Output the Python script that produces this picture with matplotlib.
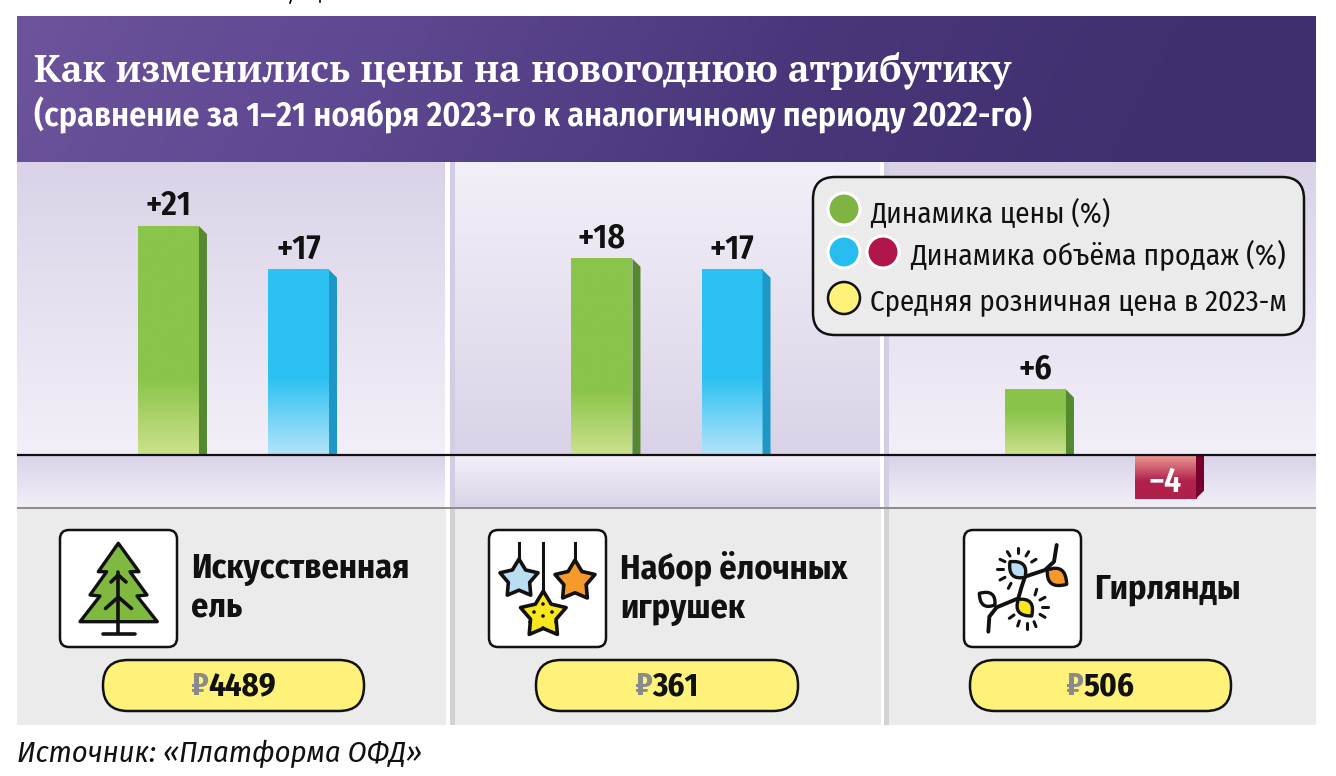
from matplotlib import pyplot as plt
from matplotlib.colors import LinearSegmentedColormap, to_rgb
from matplotlib.patches import Circle, FancyBboxPatch, PathPatch, Polygon
from matplotlib.path import Path
import numpy as np

# данные
categories = [['Искусственная', 'ель'], ['Набор ёлочных', 'игрушек'], ['Гирлянды']]
price_change = [21, 18, 6]
volume_change = [17, 17, -4]
retail_price = [4489, 361, 506]

title = 'Как изменились цены на новогоднюю атрибутику'
subtitle = '(сравнение за 1–21 ноября 2023-го к аналогичному периоду 2022-го)'
legend_labels = ['Динамика цены (%)', 'Динамика объёма продаж (%)', 'Средняя розничная цена в 2023-м']
source = 'Источник: «Платформа ОФД»'

SERIF = ['PT Serif', 'Liberation Serif', 'DejaVu Serif']
NARROW = ['Fira Sans Condensed', 'Noto Sans', 'DejaVu Sans']

fig = plt.figure(figsize=(13.36, 7.76), dpi=100)

# фон в пикселях
bg = fig.add_axes([0, 0, 1, 1])
bg.set_xlim(0, 1336)
bg.set_ylim(776, 0)
bg.axis('off')


def vgrad(x0, x1, y0, y1, c_top, c_bot):
    g = np.linspace(0, 1, 64)[:, None, None]
    img = (1 - g) * np.array(to_rgb(c_top)) + g * np.array(to_rgb(c_bot))
    bg.imshow(img, extent=(x0, x1, y1, y0), aspect='auto', interpolation='bilinear', zorder=1)


dark = '#DAD3E8'
light = '#F3EFF8'
# шапка
gx = np.linspace(0, 1, 256)[None, :]
gy = np.linspace(0, 1, 32)[:, None]
gt = np.clip(gx * 1.08 + gy * 0.06 - 0.02, 0, 1) ** 0.9
head = LinearSegmentedColormap.from_list('head', ['#6C539B', '#5E4891', '#4A377B', '#3F2F6E'])
bg.imshow(head(gt)[:, :, :3], extent=(17, 1316, 162, 16), aspect='auto', zorder=1)

vgrad(17, 445, 162, 455, dark, light)
vgrad(455, 880, 162, 455, light, dark)
vgrad(888, 1316, 162, 455, dark, light)
vgrad(17, 445, 456, 508, dark, light)
vgrad(455, 880, 456, 508, light, dark)
vgrad(888, 1316, 456, 508, dark, light)
for x0 in (450, 884):
    bg.fill_between([x0, x0 + 5], 162, 508, color='#D3CDE3', lw=0, zorder=2)
bg.fill_between([17, 1316], 507, 509, color='#8E8E8E', lw=0, zorder=2)
for x0, x1 in ((17, 446), (455, 881), (888, 1316)):
    bg.fill_between([x0, x1], 509, 725, color='#EBEBEB', lw=0, zorder=2)
for x0 in (450, 884):
    bg.fill_between([x0, x0 + 5], 509, 725, color='#D2D2D2', lw=0, zorder=2)
bg.set_xlim(0, 1336)
bg.set_ylim(776, 0)

# обрезанный край верхнего текста
bg.plot([291, 290], [0, 3], color='black', lw=1.2)
bg.plot([320, 320], [0, 2], color='black', lw=1.2)

bg.text(34, 82, title, family=SERIF, weight='bold', fontsize=27.5, color='white', zorder=5)
bg.text(34, 126, subtitle, family=NARROW, weight=600, fontsize=24.4, color='white', zorder=5)
bg.text(17, 762, source, family=NARROW, style='italic', fontsize=21.9, color='#111111', zorder=5)

# столбцы
ax = fig.add_axes([17 / 1336, 1 - 508 / 776, 1299 / 1336, (508 - 162) / 776])
ax.patch.set_alpha(0)
GROUP_PX = 433.5
UNIT_PX = 10.9
ax.set_xlim((17 - 233.5) / GROUP_PX, (1316 - 233.5) / GROUP_PX)
ax.set_ylim(-(508 - 455) / UNIT_PX, (455 - 162) / UNIT_PX)
ax.axis('off')
xlim = ax.get_xlim()
ylim = ax.get_ylim()

OFFSET = 0.15
WIDTH = 61 / GROUP_PX
DX = 8 / GROUP_PX
DY = 8 / UNIT_PX


def gradient_bar(x, val, c_far, c_near, c_side, span):
    left = x - WIDTH / 2
    right = x + WIDTH / 2
    # t = 0 у нулевой линии, 1 на конце столбца
    t = np.linspace(0, 1, 128)
    fade = np.clip(t * abs(val) / span, 0, 1)[:, None, None]
    img = (1 - fade) * np.array(to_rgb(c_near)) + fade * np.array(to_rgb(c_far))
    if val > 0:
        ax.imshow(img, extent=(left, right, 0, val), origin='lower', aspect='auto', zorder=3)
        side = [(right, 0), (right, val), (right + DX, val - DY), (right + DX, 0)]
    else:
        ax.imshow(img, extent=(left, right, val, 0), origin='upper', aspect='auto', zorder=3)
        side = [(right, 0), (right, val), (right + DX, val + DY), (right + DX, 0)]
    ax.add_patch(Polygon(side, closed=True, fc=c_side, ec='none', zorder=3))


for i in range(len(categories)):
    gradient_bar(i - OFFSET, price_change[i], '#8AC44B', '#CDE18C', '#55892F', max(4.0, 0.33 * price_change[i]))
    ax.annotate(f'+{price_change[i]}', (i - OFFSET, price_change[i]), xytext=(0, 8),
                textcoords='offset points', ha='center', va='baseline', family=NARROW,
                weight=600, fontsize=24.5, color='#111111', zorder=6)
    if volume_change[i] > 0:
        gradient_bar(i + OFFSET, volume_change[i], '#2BC1F2', '#B4E4F9', '#1F97C6', 0.42 * volume_change[i])
        ax.annotate(f'+{volume_change[i]}', (i + OFFSET, volume_change[i]), xytext=(0, 8),
                    textcoords='offset points', ha='center', va='baseline', family=NARROW,
                    weight=600, fontsize=24.5, color='#111111', zorder=6)
    else:
        gradient_bar(i + OFFSET, volume_change[i], '#B0204A', '#EC9A94', '#76002C', 2.4)
        ax.annotate(f'−{abs(volume_change[i])}', (i + OFFSET, volume_change[i]), xytext=(0, 5),
                    textcoords='offset points', ha='center', va='baseline', family=NARROW,
                    weight=600, fontsize=24.5, color='white', zorder=6)
ax.axhline(0, color='#111111', lw=1.6, zorder=4)
ax.set_xlim(xlim)
ax.set_ylim(ylim)

# всё, что лежит поверх столбцов
fg = fig.add_axes([0, 0, 1, 1])
fg.patch.set_alpha(0)
fg.set_xlim(0, 1336)
fg.set_ylim(776, 0)
fg.axis('off')


def rbox(x0, y0, x1, y1, r, fc, ec='#111111', lw=1.8, z=6):
    fg.add_patch(FancyBboxPatch((x0 + r, y0 + r), x1 - x0 - 2 * r, y1 - y0 - 2 * r,
                                boxstyle=f'round,pad={r},rounding_size={r}',
                                fc=fc, ec=ec, lw=lw, zorder=z))


# легенда
rbox(813, 177, 1304, 335, 22, '#EBEBEB')
fg.add_patch(Circle((844, 209), 16, fc='#7FB442', ec='white', lw=2.2, zorder=7))
fg.add_patch(Circle((844, 252), 16, fc='#27BEEF', ec='white', lw=2.2, zorder=7))
fg.add_patch(Circle((883, 252), 16, fc='#B0164C', ec='white', lw=2.2, zorder=7))
fg.add_patch(Circle((844, 298), 16, fc='#FFF27A', ec='#111111', lw=1.8, zorder=7))
fg.text(870, 222, legend_labels[0], family=NARROW, fontsize=21, color='#111111', zorder=7)
fg.text(910, 264, legend_labels[1], family=NARROW, fontsize=21.4, color='#111111', zorder=7)
fg.text(870, 310, legend_labels[2], family=NARROW, fontsize=20.7, color='#111111', zorder=7)

# подписи категорий
icon_x = [60, 489, 964]
label_x = [191, 620, 1094]
pill_x = [(103, 364), (536, 798), (970, 1231)]
fig.canvas.draw()
rend = fig.canvas.get_renderer()
for i, lines in enumerate(categories):
    rbox(icon_x[i], 530, icon_x[i] + 117, 647, 9, 'white')
    ys = [578, 618] if len(lines) == 2 else [598]
    for line, y in zip(lines, ys):
        fg.text(label_x[i], y, line, family=NARROW, weight='bold', fontsize=24.6,
                color='#111111', zorder=7)
    x0, x1 = pill_x[i]
    rbox(x0, 660, x1, 711, 25, '#FFF27A')
    num = fg.text(0, 695, str(retail_price[i]), family=NARROW, weight='bold', fontsize=23.5,
                  color='#111111', zorder=7)
    rub = fg.text(0, 695, '₽', family=NARROW, weight='bold', fontsize=23.5, color='#8A8A8A', zorder=7)
    wn = num.get_window_extent(rend).width
    wr = rub.get_window_extent(rend).width
    start = (x0 + x1) / 2 - (wn + wr) / 2
    rub.set_x(start)
    num.set_x(start + wr)

# ёлка
ink = '#111111'
tree = [(118.3, 543.3), (98.3, 571.7), (106.7, 571.7), (90, 595), (100, 596), (80, 621.7), (157.3, 621.7),
        (137, 596), (147, 595), (130, 571.7), (139, 571.7)]
fg.add_patch(Polygon(tree, closed=True, fc='#7FB93F', ec=ink, lw=2.4, joinstyle='round', zorder=7))
for xs, ys in (([118.3, 118.3], [572, 633]), ([103, 135], [633.5, 633.5]),
               ([111, 118.3, 126], [582, 575, 582]), ([105.5, 118.3, 131.5], [608.5, 597, 608.5])):
    fg.plot(xs, ys, color=ink, lw=2.6, solid_capstyle='round', solid_joinstyle='round', zorder=8)


# звёзды
def star(cx, cy, r, color):
    ang = np.deg2rad(np.arange(10) * 36 - 90)
    rad = np.where(np.arange(10) % 2 == 0, r, r * 0.56)
    pts = np.column_stack([cx + rad * np.cos(ang), cy + rad * np.sin(ang)])
    fg.add_patch(Polygon(pts, closed=True, fc=color, ec=ink, lw=2.6, joinstyle='round', zorder=7))


for sx, top, bot in ((519, 543, 562), (543.3, 543, 592), (575, 543, 563)):
    fg.plot([sx, sx], [top, bot], color=ink, lw=2.2, zorder=6.5)
star(519, 579, 20, '#BBDDF2')
star(575, 581, 21, '#F79A2C')
star(543.3, 615, 24, '#F8E71C')
for dot in ((543, 604), (534, 612), (552, 612), (543, 616), (530, 622), (556, 622), (543, 628)):
    fg.add_patch(Circle(dot, 1.8, fc=ink, ec='none', zorder=8))


# гирлянда (координаты кропа 3x, начало 950, 520)
def crop(p):
    return (950 + p[0] / 3, 520 + p[1] / 3)


wire = [(320, 75), (312, 125), (285, 150), (225, 170), (215, 200), (205, 235), (140, 262), (118, 290), (115, 335)]
fg.plot(*zip(*[crop(p) for p in wire]), color=ink, lw=2.8, solid_joinstyle='round', solid_capstyle='round', zorder=7)


def bulb(base, tip, color):
    b = np.array(crop(base))
    t = np.array(crop(tip))
    d = t - b
    n = np.array([-d[1], d[0]])
    c1 = b + 0.45 * d + 0.7 * n
    c2 = b + 0.45 * d - 0.7 * n
    path = Path([b, c1, t, c2, b, b], [Path.MOVETO, Path.CURVE3, Path.CURVE3, Path.CURVE3, Path.CURVE3, Path.CLOSEPOLY])
    fg.add_patch(PathPatch(path, fc=color, ec=ink, lw=2.4, joinstyle='round', zorder=8))


bulb((225, 172), (180, 125), '#BBDDF2')
bulb((292, 150), (350, 193), '#F79A2C')
bulb((135, 255), (88, 220), 'white')
bulb((205, 238), (245, 288), '#F8E71C')
rays = [((205, 85), (205, 100)), ((236, 95), (228, 108)), ((258, 118), (245, 126)), ((172, 95), (180, 108)),
        ((150, 118), (165, 125)), ((140, 148), (158, 148)), ((150, 180), (165, 172)), ((175, 205), (183, 190)),
        ((260, 208), (255, 225)), ((285, 232), (270, 240)), ((295, 262), (275, 262)), ((285, 292), (270, 283)),
        ((258, 320), (252, 305)), ((230, 328), (230, 310)), ((203, 318), (208, 303)), ((178, 295), (192, 285))]
for a, b in rays:
    fg.plot(*zip(crop(a), crop(b)), color=ink, lw=2.2, solid_capstyle='round', zorder=7)

fig.savefig('out.png', dpi=100)
